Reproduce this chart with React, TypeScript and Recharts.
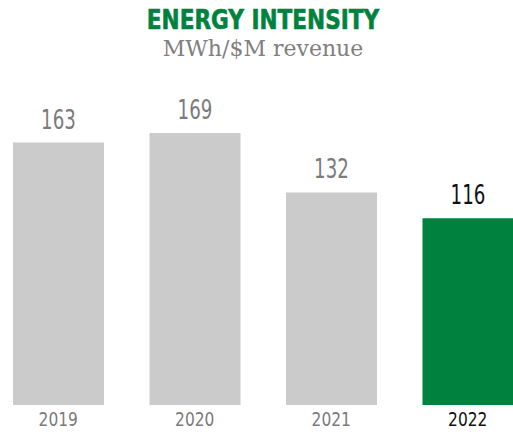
import React from "react";
import { BarChart, Bar, XAxis, YAxis, Cell, LabelList } from "recharts";

const years = ["2019", "2020", "2021", "2022"];
const intensity = [163, 169, 132, 116];
const currentYear = "2022";

const data = years.map((year, i) => ({ year, value: intensity[i] }));

const GREEN = "#00823f";
const GREY_BAR = "#cbcbcb";
const GREY_TEXT = "#7b7b7b";
const NARROW = "'DejaVu Sans Condensed', 'DejaVu Sans', sans-serif";

// svg text squeezed horizontally, to look like a condensed face
function NarrowText({ x, y, size, squeeze, fill, children }: any) {
  return (
    <text
      transform={`translate(${x},${y}) scale(${squeeze},1)`}
      textAnchor="middle"
      fontFamily={NARROW}
      fontStretch="condensed"
      fontSize={size}
      fill={fill}
    >
      {children}
    </text>
  );
}

function YearTick(props: any) {
  const { x, y, payload } = props;
  const isCurrent = payload.value === currentYear;
  return (
    <NarrowText x={x} y={y + 13} size={19.5} squeeze={0.88} fill={isCurrent ? "#111111" : GREY_TEXT}>
      {payload.value}
    </NarrowText>
  );
}

function ValueLabel(props: any) {
  const { x, y, width, value, index } = props;
  const isCurrent = years[index] === currentYear;
  return (
    <NarrowText
      x={x + width / 2}
      y={y - 14}
      size={27}
      squeeze={0.75}
      fill={isCurrent ? "#111111" : GREY_TEXT}
    >
      {value}
    </NarrowText>
  );
}

export default function App() {
  return (
    <div
      style={{
        position: "absolute",
        left: 0,
        top: 0,
        width: 513,
        height: 442,
        overflow: "hidden",
        background: "#ffffff",
      }}
    >
      <div
        style={{
          position: "absolute",
          left: 0,
          top: 3,
          width: 526,
          textAlign: "center",
          fontFamily: NARROW,
          fontWeight: 700,
          fontSize: 27,
          color: GREEN,
          lineHeight: "34px",
          transform: "scaleX(0.89)",
          transformOrigin: "263px 0",
          WebkitTextStroke: "0.6px " + GREEN,
        }}
      >
        ENERGY INTENSITY
      </div>
      <div
        style={{
          position: "absolute",
          left: 0,
          top: 35,
          width: 526,
          textAlign: "center",
          fontFamily: "'DejaVu Serif', serif",
          fontSize: 22,
          color: "#808080",
          lineHeight: "28px",
        }}
      >
        MWh/$M revenue
      </div>
      <div style={{ position: "absolute", left: -10, top: 0 }}>
        <BarChart
          width={546}
          height={442}
          data={data}
          margin={{ top: 83, right: 0, left: 0, bottom: 0 }}
          barSize={91}
        >
          <XAxis
            dataKey="year"
            axisLine={false}
            tickLine={false}
            height={37}
            tick={<YearTick />}
            interval={0}
          />
          <YAxis hide domain={[0, 200]} />
          <Bar dataKey="value" isAnimationActive={false}>
            {data.map((d) => (
              <Cell key={d.year} fill={d.year === currentYear ? GREEN : GREY_BAR} />
            ))}
            <LabelList dataKey="value" content={<ValueLabel />} />
          </Bar>
        </BarChart>
      </div>
    </div>
  );
}
